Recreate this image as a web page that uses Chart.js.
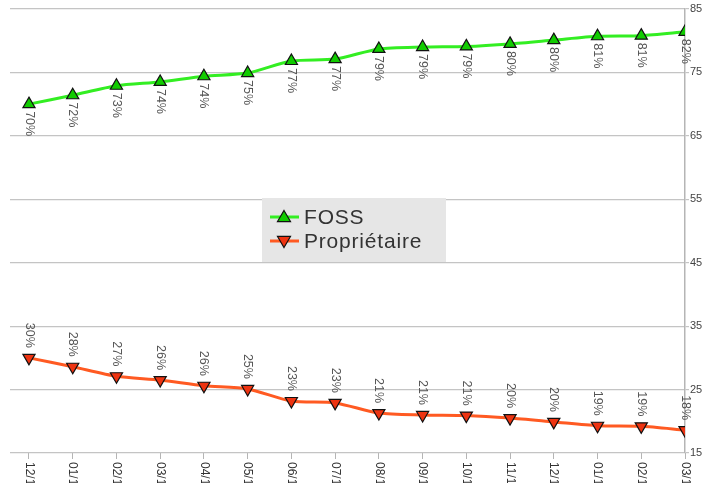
<!DOCTYPE html>
<html>
<head>
<meta charset="utf-8">
<script src="https://cdn.jsdelivr.net/npm/chart.js@4.4.2/dist/chart.umd.min.js"></script>
<style>
  html, body { margin: 0; padding: 0; background: #fff; }
  #wrap { width: 706px; height: 483px; }
</style>
</head>
<body>
<div id="wrap"><canvas id="chart" width="706" height="483"></canvas></div>
<script>
// months shown on the x axis
const months = ['12/10', '01/11', '02/11', '03/11', '04/11', '05/11', '06/11', '07/11',
                '08/11', '09/11', '10/11', '11/11', '12/11', '01/12', '02/12', '03/12'];
// share in percent
const foss = [70.0, 71.4, 72.9, 73.5, 74.4, 74.9, 76.8, 77.1, 78.7, 79.0, 79.1, 79.5, 80.1, 80.7, 80.8, 81.4];
const prop = [30.0, 28.6, 27.1, 26.5, 25.6, 25.1, 23.2, 22.9, 21.3, 21.0, 20.9, 20.5, 19.9, 19.3, 19.2, 18.6];
// labels printed next to the points
const fossLabels = ['70%', '72%', '73%', '74%', '74%', '75%', '77%', '77%', '79%', '79%', '79%', '80%', '80%', '81%', '81%', '82%'];
const propLabels = ['30%', '28%', '27%', '26%', '26%', '25%', '23%', '23%', '21%', '21%', '21%', '20%', '20%', '19%', '19%', '18%'];
const yTicks = [15, 25, 35, 45, 55, 65, 75, 85];

const FONT = '"Liberation Sans", Arial, sans-serif';

// rotated value labels + rotated month labels
const rotatedText = {
  id: 'rotatedText',
  afterDatasetsDraw(chart) {
    const ctx = chart.ctx;
    ctx.save();
    ctx.font = '12.5px ' + FONT;
    ctx.fillStyle = '#555';
    ctx.textBaseline = 'middle';
    chart.data.datasets.forEach((ds, i) => {
      const meta = chart.getDatasetMeta(i);
      meta.data.forEach((pt, j) => {
        ctx.save();
        ctx.translate(pt.x, pt.y);
        ctx.rotate(Math.PI / 2);
        if (i === 0) {
          ctx.textAlign = 'left';
          ctx.fillText(ds.pointLabels[j], 7, 0);
        } else {
          ctx.textAlign = 'right';
          ctx.fillText(ds.pointLabels[j], -10, 0);
        }
        ctx.restore();
      });
    });
    // month labels under the axis
    const xs = chart.scales.x;
    const bottom = chart.chartArea.bottom;
    ctx.font = '12px ' + FONT;
    ctx.fillStyle = '#333';
    months.forEach((m, j) => {
      ctx.save();
      ctx.translate(xs.getPixelForValue(j), bottom + 9);
      ctx.rotate(Math.PI / 2);
      ctx.textAlign = 'left';
      ctx.fillText(m, 0, 0);
      ctx.restore();
    });
    ctx.restore();
  }
};

// legend box inside the plot
const boxLegend = {
  id: 'boxLegend',
  afterDraw(chart) {
    const ctx = chart.ctx;
    const x0 = chart.chartArea.left + 252;
    const y0 = chart.chartArea.top + 189;
    const w = 184, h = 64;
    ctx.save();
    ctx.fillStyle = '#e6e6e6';
    ctx.fillRect(x0, y0, w, h);
    chart.data.datasets.forEach((ds, i) => {
      const cy = y0 + 19 + i * 24;
      ctx.strokeStyle = ds.borderColor;
      ctx.lineWidth = 3;
      ctx.beginPath();
      ctx.moveTo(x0 + 8, cy);
      ctx.lineTo(x0 + 37, cy);
      ctx.stroke();
      ctx.fillStyle = ds.pointBackgroundColor;
      ctx.strokeStyle = '#111';
      ctx.lineWidth = 1.2;
      ctx.beginPath();
      const cx = x0 + 22, r = 6.5;
      if (i === 0) {
        ctx.moveTo(cx, cy - r);
        ctx.lineTo(cx + r, cy + r * 0.7);
        ctx.lineTo(cx - r, cy + r * 0.7);
      } else {
        ctx.moveTo(cx, cy + r);
        ctx.lineTo(cx + r, cy - r * 0.7);
        ctx.lineTo(cx - r, cy - r * 0.7);
      }
      ctx.closePath();
      ctx.fill();
      ctx.stroke();
      ctx.fillStyle = '#333';
      ctx.font = '21px ' + FONT;
      ctx.letterSpacing = '0.8px';
      ctx.textBaseline = 'middle';
      ctx.textAlign = 'left';
      ctx.fillText(ds.label, x0 + 42, cy + 1);
      ctx.letterSpacing = '0px';
    });
    ctx.restore();
  }
};

const ctx = document.getElementById('chart').getContext('2d');
new Chart(ctx, {
  type: 'line',
  data: {
    datasets: [
      {
        label: 'FOSS',
        data: foss.map((v, i) => ({ x: i, y: v })),
        pointLabels: fossLabels,
        borderColor: '#33ee22',
        borderWidth: 3,
        pointStyle: 'triangle',
        pointRadius: 7,
        pointBackgroundColor: '#11cc00',
        pointBorderColor: '#111',
        pointBorderWidth: 1.2,
        tension: 0.25
      },
      {
        label: 'Propriétaire',
        data: prop.map((v, i) => ({ x: i, y: v })),
        pointLabels: propLabels,
        borderColor: '#ff5a22',
        borderWidth: 3,
        pointStyle: 'triangle',
        pointRotation: 180,
        pointRadius: 7,
        pointBackgroundColor: '#ee3311',
        pointBorderColor: '#111',
        pointBorderWidth: 1.2,
        tension: 0.25
      }
    ]
  },
  options: {
    responsive: false,
    animation: false,
    layout: { padding: { left: 10, top: 9, right: 0, bottom: 0 } },
    plugins: {
      legend: { display: false },
      tooltip: { enabled: false }
    },
    scales: {
      x: {
        type: 'linear',
        min: -0.434,
        max: 15,
        afterFit: (s) => { s.height = 30; },
        afterBuildTicks: (s) => { s.ticks = months.map((m, i) => ({ value: i })); },
        ticks: { display: false },
        grid: { drawOnChartArea: false, drawTicks: true, tickLength: 6, color: '#b5b5b5' },
        border: { display: false }
      },
      y: {
        position: 'right',
        min: 15,
        max: 85,
        afterFit: (s) => { s.width = 21; },
        afterBuildTicks: (s) => { s.ticks = yTicks.map(v => ({ value: v })); },
        ticks: { color: '#444', font: { family: FONT, size: 11 }, padding: 1 },
        grid: { color: '#c4c4c4', lineWidth: 1.2, tickLength: 4 },
        border: { color: '#b5b5b5', width: 1.5 }
      }
    }
  },
  plugins: [rotatedText, boxLegend]
});
</script>
</body>
</html>
